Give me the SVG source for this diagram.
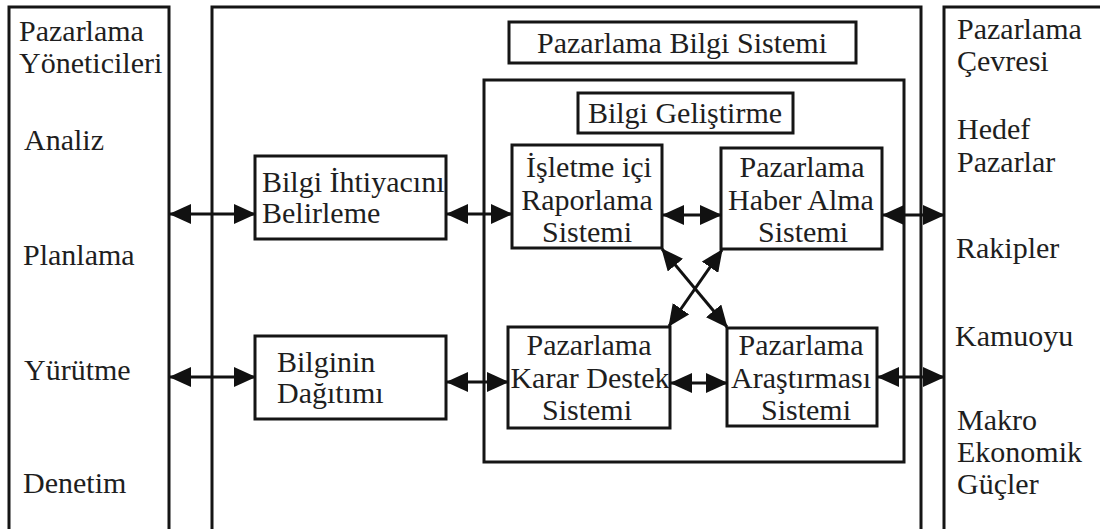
<svg xmlns="http://www.w3.org/2000/svg" width="1100" height="529" viewBox="0 0 1100 529">
  <defs>
    <marker id="head" viewBox="0 0 22 20" refX="21" refY="10" markerWidth="22" markerHeight="20" markerUnits="userSpaceOnUse" orient="auto-start-reverse">
      <path d="M0,0 L22,10 L0,20 Z" fill="#111111"/>
    </marker>
  </defs>

  <rect width="1100" height="529" fill="#ffffff"/>

  <!-- left column: marketing managers -->
  <g id="managers" font-family="Liberation Serif" font-size="30" fill="#1e1e1e">
    <path d="M9,535 V7 H169 V535" fill="none" stroke="#151515" stroke-width="3"/>
    <text x="19" y="41">Pazarlama</text>
    <text x="19" y="73">Yöneticileri</text>
    <text x="24" y="150">Analiz</text>
    <text x="23" y="265">Planlama</text>
    <text x="24" y="380">Yürütme</text>
    <text x="23" y="493">Denetim</text>
  </g>

  <!-- central frame: marketing information system -->
  <g id="mis">
    <path d="M212,535 V7 H921 V535" fill="none" stroke="#151515" stroke-width="3"/>
  </g>
  <g id="mis-title" font-family="Liberation Serif" font-size="30" fill="#1e1e1e">
    <rect x="509" y="22" width="347" height="41" fill="#ffffff" stroke="#151515" stroke-width="3"/>
    <text text-anchor="middle" x="682" y="53">Pazarlama Bilgi Sistemi</text>
  </g>

  <!-- information development container -->
  <g id="development">
    <rect x="484" y="80" width="420" height="382" fill="none" stroke="#151515" stroke-width="3"/>
  </g>
  <g id="development-title" font-family="Liberation Serif" font-size="30" fill="#1e1e1e">
    <rect x="578" y="93" width="215" height="40" fill="#ffffff" stroke="#151515" stroke-width="3"/>
    <text text-anchor="middle" x="685" y="123">Bilgi Geliştirme</text>
  </g>

  <!-- right column: marketing environment -->
  <g id="environment" font-family="Liberation Serif" font-size="30" fill="#1e1e1e">
    <path d="M944,535 V7 H1106 V535" fill="none" stroke="#151515" stroke-width="3"/>
    <text x="957" y="39">Pazarlama</text>
    <text x="957" y="71">Çevresi</text>
    <text x="957" y="139">Hedef</text>
    <text x="957" y="172">Pazarlar</text>
    <text x="956" y="258">Rakipler</text>
    <text x="955" y="346">Kamuoyu</text>
    <text x="957" y="430">Makro</text>
    <text x="957" y="462">Ekonomik</text>
    <text x="957" y="494">Güçler</text>
  </g>

  <g id="needs" font-family="Liberation Serif" font-size="30" fill="#1e1e1e">
    <rect x="255" y="156" width="191" height="83" fill="#ffffff" stroke="#151515" stroke-width="3"/>
    <text x="262" y="192">Bilgi İhtiyacını</text>
    <text x="262" y="223">Belirleme</text>
  </g>

  <g id="distribution" font-family="Liberation Serif" font-size="30" fill="#1e1e1e">
    <rect x="255" y="336" width="191" height="83" fill="#ffffff" stroke="#151515" stroke-width="3"/>
    <text x="277" y="372">Bilginin</text>
    <text x="277" y="403">Dağıtımı</text>
  </g>

  <g id="internal-reports" font-family="Liberation Serif" font-size="30" fill="#1e1e1e" text-anchor="middle">
    <rect x="512" y="145" width="150" height="103" fill="#ffffff" stroke="#151515" stroke-width="3"/>
    <text x="589" y="177">İşletme içi</text>
    <text x="587" y="210">Raporlama</text>
    <text x="587" y="242">Sistemi</text>
  </g>

  <g id="intelligence" font-family="Liberation Serif" font-size="30" fill="#1e1e1e" text-anchor="middle">
    <rect x="721" y="148" width="161" height="101" fill="#ffffff" stroke="#151515" stroke-width="3"/>
    <text x="802" y="177">Pazarlama</text>
    <text x="801" y="210">Haber Alma</text>
    <text x="803" y="242">Sistemi</text>
  </g>

  <g id="decision-support" font-family="Liberation Serif" font-size="30" fill="#1e1e1e" text-anchor="middle">
    <rect x="508" y="327" width="162" height="101" fill="#ffffff" stroke="#151515" stroke-width="3"/>
    <text x="589" y="355">Pazarlama</text>
    <text x="590" y="388">Karar Destek</text>
    <text x="587" y="420">Sistemi</text>
  </g>

  <g id="research" font-family="Liberation Serif" font-size="30" fill="#1e1e1e" text-anchor="middle">
    <rect x="727" y="328" width="150" height="98" fill="#ffffff" stroke="#151515" stroke-width="3"/>
    <text x="801" y="355">Pazarlama</text>
    <text x="801" y="388">Araştırması</text>
    <text x="806" y="420">Sistemi</text>
  </g>

  <!-- two-way information flows -->
  <g id="connectors" stroke="#111111" stroke-width="3" fill="none" marker-start="url(#head)" marker-end="url(#head)">
    <line x1="170" y1="214" x2="255" y2="214"/>
    <line x1="170" y1="377" x2="255" y2="377"/>
    <line x1="447" y1="214" x2="512" y2="214"/>
    <line x1="447" y1="382" x2="508" y2="382"/>
    <line x1="663" y1="215" x2="721" y2="215"/>
    <line x1="671" y1="383" x2="727" y2="383"/>
    <line x1="883" y1="215" x2="944" y2="215"/>
    <line x1="878" y1="377" x2="944" y2="377"/>
    <line x1="662" y1="249" x2="727" y2="327"/>
    <line x1="722" y1="250" x2="669" y2="326"/>
  </g>
</svg>
